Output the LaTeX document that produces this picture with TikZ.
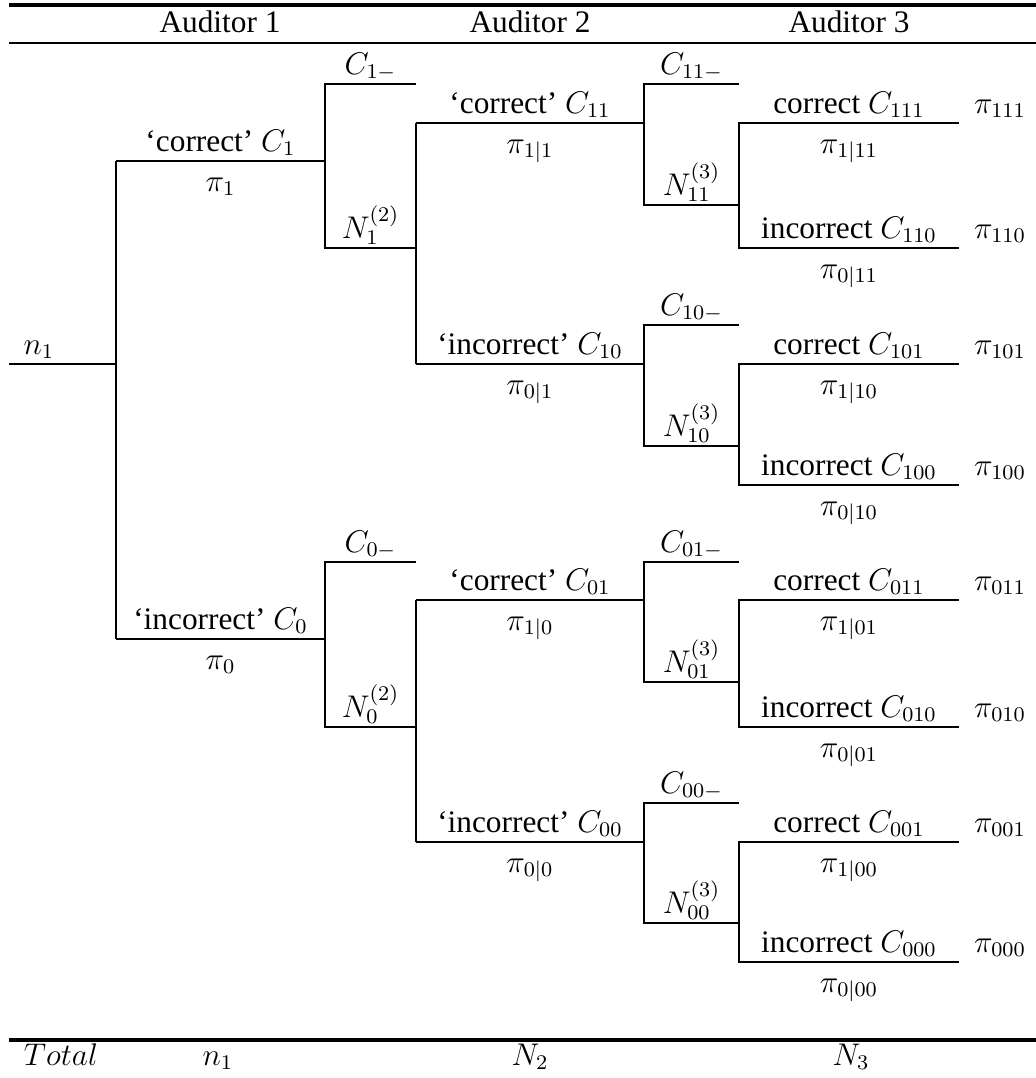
\documentclass[tikz,border=0pt]{standalone}
\usepackage{fontspec}
\setmainfont{Liberation Serif}
\begin{document}
\begin{tikzpicture}[x=0.383pt,y=-0.383pt,
  lab/.style={anchor=base,inner sep=0pt},
  tree/.style={line width=0.8pt},
  rulethick/.style={line width=1.2pt},
  rulethin/.style={line width=0.9pt},
  font=\fontsize{12}{14.4}\selectfont]
\useasboundingbox (0,0) rectangle (1036,1078);

% rules
\coordinate (tl) at (9,5);    \coordinate (tr) at (1036,5);
\coordinate (hl) at (9,43);   \coordinate (hr) at (1036,43);
\coordinate (bl) at (9,1040); \coordinate (br) at (1036,1040);
\draw[rulethick] (tl) -- (tr);
\draw[rulethin] (hl) -- (hr);
\draw[rulethick] (bl) -- (br);

% header
\node[lab] (aud1) at (220,32) {Auditor 1};
\node[lab] (aud2) at (530,32) {Auditor 2};
\node[lab] (aud3) at (849,32) {Auditor 3};

% totals
\node[lab] (tot) at (61,1065) {$Total$};
\node[lab] (totn1) at (218,1065) {$n_1$};
\node[lab] (totN2) at (530,1065) {$N_2$};
\node[lab] (totN3) at (851,1065) {$N_3$};

% level 3 blocks
\foreach \k/\y/\m/\n/\i in {11/123/84/205/248, 10/364/325/446/485, 01/600/562/682/727, 00/842/803/923/962} {
  \coordinate (s\k) at (416,\y);
  \coordinate (v\k) at (644,\y);
  \coordinate (mt\k) at (644,\m);  \coordinate (me\k) at (739,\m);
  \coordinate (nt\k) at (644,\n);  \coordinate (ne\k) at (739,\n);
  \coordinate (ct\k) at (739,\y);  \coordinate (ce\k) at (959,\y);
  \coordinate (it\k) at (739,\i);  \coordinate (ie\k) at (959,\i);
  \draw[tree] (s\k) -- (v\k);
  \draw[tree] (me\k) -- (mt\k) -- (nt\k) -- (ne\k);
  \draw[tree] (ce\k) -- (ct\k) -- (it\k) -- (ie\k);
  \node[lab] (lm\k) at (691.5,\m-10) {$C_{\k-}$};
  \node[lab] (ln\k) at (691.5,\n-10) {$N_{\k}^{(3)}$};
  \node[lab] (lc\k) at (849,\y-10) {correct $C_{\k1}$};
  \node[lab] (lpc\k) at (849,\y+30) {$\pi_{1|\k}$};
  \node[lab] (li\k) at (849,\i-10) {incorrect $C_{\k0}$};
  \node[lab] (lpi\k) at (849,\i+30) {$\pi_{0|\k}$};
  \node[lab] (rc\k) at (1000,\y-10) {$\pi_{\k1}$};
  \node[lab] (ri\k) at (1000,\i-10) {$\pi_{\k0}$};
}

% level 2 blocks
\foreach \k/\y/\m/\n/\a/\b in {1/161/84/248/11/10, 0/639/562/727/01/00} {
  \coordinate (t\k) at (116,\y);   \coordinate (u\k) at (325,\y);
  \coordinate (um\k) at (325,\m);  \coordinate (em\k) at (416,\m);
  \coordinate (un\k) at (325,\n);  \coordinate (en\k) at (416,\n);
  \draw[tree] (t\k) -- (u\k);
  \draw[tree] (em\k) -- (um\k) -- (un\k) -- (en\k);
  \draw[tree] (s\a) -- (s\b);
  \node[lab] (lm\k) at (370.5,\m-10) {$C_{\k-}$};
  \node[lab] (ln\k) at (370.5,\n-10) {$N_{\k}^{(2)}$};
}

% root
\coordinate (r) at (9,364);
\coordinate (j) at (116,364);
\draw[tree] (r) -- (j);
\draw[tree] (t1) -- (t0);
\node[lab] (n1) at (39,354) {$n_1$};

% level 1 / level 2 word labels
\node[lab] (lC1) at (220.5,151) {`correct' $C_1$};
\node[lab] (lp1) at (220.5,191) {$\pi_1$};
\node[lab] (lC0) at (220.5,629) {`incorrect' $C_0$};
\node[lab] (lp0) at (220.5,669) {$\pi_0$};
\node[lab] (lC11) at (530,113) {`correct' $C_{11}$};
\node[lab] (lp11) at (530,153) {$\pi_{1|1}$};
\node[lab] (lC10) at (530,354) {`incorrect' $C_{10}$};
\node[lab] (lp10) at (530,394) {$\pi_{0|1}$};
\node[lab] (lC01) at (530,590) {`correct' $C_{01}$};
\node[lab] (lp01) at (530,630) {$\pi_{1|0}$};
\node[lab] (lC00) at (530,832) {`incorrect' $C_{00}$};
\node[lab] (lp00) at (530,872) {$\pi_{0|0}$};
\end{tikzpicture}
\end{document}
